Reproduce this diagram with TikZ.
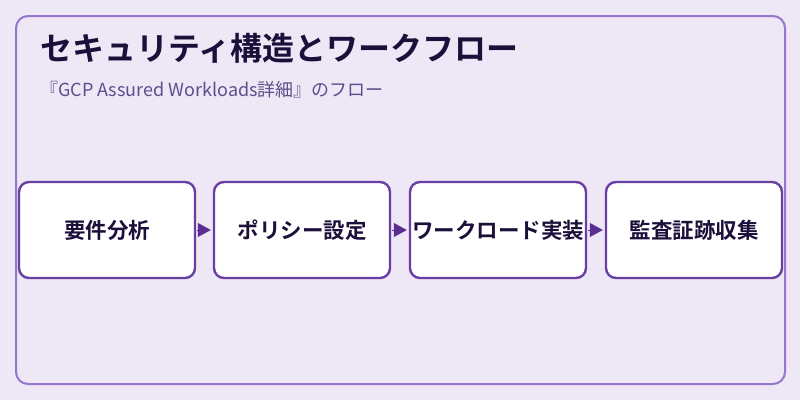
\documentclass[tikz,border=0pt]{standalone}
\usepackage{fontspec}
\setmainfont{Noto Sans CJK JP}
\newfontfamily\jpb{Noto Sans CJK JP Bold}
\newfontfamily\jpr{Noto Sans CJK JP}
\usetikzlibrary{arrows.meta}
\definecolor{bgc}{HTML}{EDE7F6}
\definecolor{framec}{HTML}{9575CD}
\definecolor{boxc}{HTML}{6A3FA3}
\definecolor{arrc}{HTML}{5B2E91}
\definecolor{titlec}{HTML}{1C0F3A}
\definecolor{subc}{HTML}{5E4E8C}
\tikzset{
  stepbox/.style={draw=boxc, line width=2.4pt, fill=white, rounded corners=10pt,
    minimum width=176pt, minimum height=96pt, inner sep=0pt,
    font=\jpb\fontsize{21.5}{24}\selectfont, text=titlec},
  flow/.style={draw=arrc, line width=0.8pt, -{Triangle[length=13pt,width=14pt]}, arrc, shorten >=2pt, shorten <=1pt}
}
\begin{document}
\begin{tikzpicture}[x=1pt,y=-1pt]
\useasboundingbox (0,0) rectangle (800,400);
\fill[bgc] (0,0) rectangle (800,400);
\draw[framec, line width=2pt, rounded corners=12pt] (16,16) rectangle (785,384);
\node[anchor=base west, inner sep=0pt, text=titlec, font=\jpb\fontsize{32}{36}\selectfont] (title) at (40,60) {セキュリティ構造とワークフロー};
\node[anchor=base west, inner sep=0pt, text=subc, font=\jpr\fontsize{18}{22}\selectfont] (sub) at (40,96) {『GCP Assured Workloads詳細』のフロー};
\node[stepbox] (b1) at (107,230) {要件分析};
\node[stepbox] (b2) at (302,230) {ポリシー設定};
\node[stepbox] (b3) at (498,230) {ワークロード実装};
\node[stepbox] (b4) at (694,230) {監査証跡収集};
\draw[flow] (b1.east) -- (b2.west);
\draw[flow] (b2.east) -- (b3.west);
\draw[flow] (b3.east) -- (b4.west);
\end{tikzpicture}
\end{document}
